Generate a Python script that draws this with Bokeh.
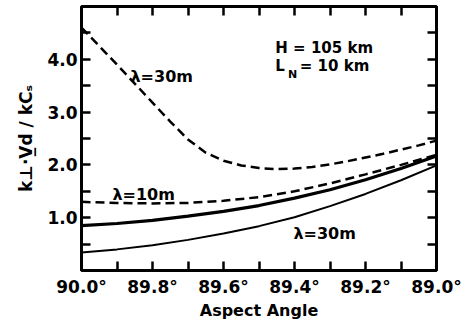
import math
from bokeh.plotting import figure
from bokeh.models import Range1d, FixedTicker, PrintfTickFormatter, LinearAxis, Label
from bokeh.embed import file_html
from bokeh.resources import INLINE

# ---- data ----
x_deg = [90.0, 89.9, 89.8, 89.7, 89.6, 89.5, 89.4, 89.3, 89.2, 89.1, 89.0]
thin_solid_30m = [0.34, 0.40, 0.48, 0.58, 0.70, 0.84, 1.01, 1.22, 1.45, 1.71, 1.99]
thick_solid = [0.85, 0.89, 0.95, 1.03, 1.12, 1.23, 1.37, 1.53, 1.72, 1.93, 2.17]
dashed_10m = [1.30, 1.28, 1.27, 1.28, 1.32, 1.39, 1.50, 1.65, 1.82, 2.00, 2.19]

x_fine = [90.0, 89.95, 89.9, 89.85, 89.8, 89.75, 89.7, 89.65, 89.6, 89.55, 89.5,
          89.45, 89.4, 89.35, 89.3, 89.25, 89.2, 89.15, 89.1, 89.05, 89.0]
dashed_30m = [4.60, 4.25, 3.90, 3.54, 3.18, 2.82, 2.48, 2.23, 2.08, 1.99, 1.94,
              1.92, 1.93, 1.96, 2.01, 2.07, 2.14, 2.21, 2.29, 2.37, 2.46]

x_ticks = [90.0, 89.8, 89.6, 89.4, 89.2, 89.0]
x_minor = [89.9, 89.7, 89.5, 89.3, 89.1]
y_ticks = [1.0, 2.0, 3.0, 4.0]
y_minor = [0.5, 1.5, 2.5, 3.5, 4.5]

FONT = "DejaVu Sans"
Y_TOP = 5.0
FRAME_W, FRAME_H = 355, 264

p = figure(frame_width=FRAME_W, frame_height=FRAME_H,
           x_range=Range1d(90.0, 89.0), y_range=Range1d(0, Y_TOP),
           output_backend="svg", toolbar_location=None,
           min_border_left=81, min_border_right=26, min_border_top=6, min_border_bottom=54)
p.grid.visible = False
p.outline_line_color = "black"
p.outline_line_width = 3
p.background_fill_color = "white"
p.border_fill_color = "white"

def style_axis(ax, labels=True):
    ax.axis_line_color = None
    ax.major_tick_in = 9
    ax.major_tick_out = 0
    ax.minor_tick_in = 9
    ax.minor_tick_out = 0
    ax.major_tick_line_width = 2.5
    ax.minor_tick_line_width = 2.5
    ax.major_tick_line_color = "black"
    ax.minor_tick_line_color = "black"
    if labels:
        ax.major_label_text_font = FONT
        ax.major_label_text_font_style = "bold"
        ax.major_label_text_font_size = "17px"
        ax.major_label_text_color = "black"

xb = p.xaxis[0]
xb.ticker = FixedTicker(ticks=x_ticks, minor_ticks=x_minor)
xb.formatter = PrintfTickFormatter(format="%.1f°")
style_axis(xb)
xb.major_label_standoff = 6
xb.axis_label = "Aspect Angle"
xb.axis_label_text_font = FONT
xb.axis_label_text_font_style = "bold"
xb.axis_label_text_font_size = "16px"
xb.axis_label_text_color = "black"
xb.axis_label_standoff = 1

yl = p.yaxis[0]
yl.ticker = FixedTicker(ticks=y_ticks, minor_ticks=y_minor)
yl.formatter = PrintfTickFormatter(format="%.1f")
style_axis(yl)
yl.major_label_standoff = 4
yl.axis_label = "k\u22a5\u00b7V\u0332d / kC\u209b"
yl.axis_label_text_font = FONT
yl.axis_label_text_font_style = "bold"
yl.axis_label_text_font_size = "17px"
yl.axis_label_text_color = "black"
yl.axis_label_standoff = 8

# top and right: ticks only (all ticks as minor ticks, so no labels are drawn)
xt = LinearAxis(ticker=FixedTicker(ticks=[], minor_ticks=x_ticks + x_minor))
style_axis(xt, labels=False)
p.add_layout(xt, "above")
yr = LinearAxis(ticker=FixedTicker(ticks=[], minor_ticks=y_ticks + y_minor))
style_axis(yr, labels=False)
p.add_layout(yr, "right")

# ---- curves ----
p.line(x_fine, dashed_30m, line_color="black", line_width=2.5, line_dash="9 5")
p.line(x_deg, dashed_10m, line_color="black", line_width=2.5, line_dash="9 5")
p.line(x_deg, thick_solid, line_color="black", line_width=3.2)
p.line(x_deg, thin_solid_30m, line_color="black", line_width=2)

# ---- annotations ----
def lab(x, y, text, size="16px", **kw):
    p.add_layout(Label(x=x, y=y, text=text, text_font=FONT, text_font_style="bold",
                       text_font_size=size, text_color="black",
                       text_baseline="alphabetic", text_align="left", **kw))

lab(89.862, 3.68, "λ=30m")
lab(89.913, 1.43, "λ=10m")
lab(89.403, 0.70, "λ=30m")
lab(89.454, 4.22, "H = 105 km", size="15px")
lab(89.454, 3.87, "L", size="15px")
lab(89.418, 3.72, "N", size="11px")
lab(89.385, 3.87, "= 10 km", size="15px")

open("out.html", "w").write(file_html(p, INLINE))
